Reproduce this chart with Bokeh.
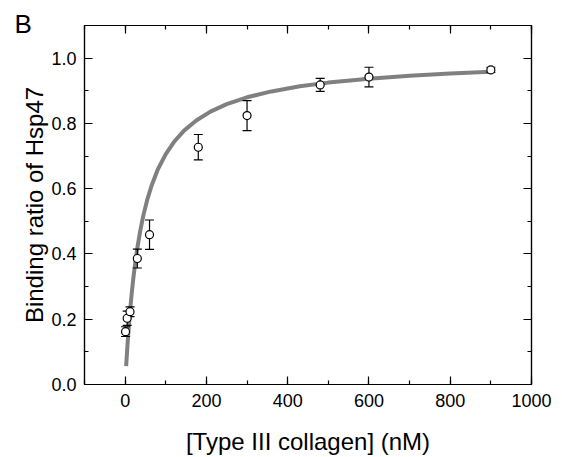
from bokeh.plotting import figure
from bokeh.models import (Range1d, LinearAxis, SingleIntervalTicker, ColumnDataSource,
                          CustomJSTickFormatter, Title)
from bokeh.embed import file_html
from bokeh.resources import INLINE

# measured data (nM, binding ratio)
conc = [1, 5, 12, 30, 60, 180, 300, 480, 600, 900]
ratio = [0.162, 0.203, 0.223, 0.386, 0.459, 0.727, 0.824, 0.918, 0.942, 0.964]
err = [0.015, 0.022, 0.015, 0.029, 0.045, 0.039, 0.046, 0.020, 0.030, 0.008]

# fitted curve
fit_x = [2.5, 4, 6, 8, 10, 13, 16, 20, 25, 30, 37, 45, 55, 65, 80, 100, 120, 145,
         175, 210, 250, 300, 360, 430, 500, 600, 700, 800, 900]
fit_y = [0.056, 0.087, 0.125, 0.160, 0.193, 0.237, 0.277, 0.324, 0.374, 0.418, 0.470,
         0.519, 0.569, 0.609, 0.658, 0.706, 0.743, 0.778, 0.809, 0.836, 0.859, 0.880,
         0.898, 0.914, 0.925, 0.937, 0.946, 0.953, 0.958]

x_label = "[Type III collagen] (nM)"
y_label = "Binding ratio of Hsp47"
panel = "B"

FONT = "Liberation Sans"

p = figure(width=562, height=457, output_backend="svg", toolbar_location=None,
           title_location=None,
           x_range=Range1d(-100, 1000), y_range=Range1d(0, 1.1),
           min_border_left=84, min_border_right=31, min_border_top=25, min_border_bottom=73)
p.xgrid.visible = False
p.ygrid.visible = False
p.outline_line_color = "black"
p.outline_line_width = 1.2
p.background_fill_color = "white"
p.border_fill_color = "white"

def style(ax, show_labels):
    ax.major_tick_in = 8
    ax.major_tick_out = 0
    ax.minor_tick_in = 4
    ax.minor_tick_out = 0
    ax.axis_line_color = "black"
    ax.axis_line_width = 1.2
    ax.major_tick_line_color = "black"
    ax.minor_tick_line_color = "black"
    ax.major_tick_line_width = 1.2
    ax.minor_tick_line_width = 1.2
    ax.major_label_text_font = FONT
    ax.major_label_text_color = "black"
    ax.axis_label_text_font = FONT
    ax.axis_label_text_font_style = "normal"
    ax.axis_label_text_color = "black"
    if not show_labels:
        ax.formatter = CustomJSTickFormatter(code="return ''")
        ax.major_label_standoff = 0

xt = SingleIntervalTicker(interval=200, num_minor_ticks=2)
yt = SingleIntervalTicker(interval=0.2, num_minor_ticks=2)
p.xaxis.ticker = xt
p.yaxis.ticker = yt

xa = p.xaxis[0]
ya = p.yaxis[0]
style(xa, True)
style(ya, True)
xa.major_label_text_font_size = "18px"
ya.major_label_text_font_size = "18px"
xa.axis_label = x_label
ya.axis_label = y_label
xa.axis_label_text_font_size = "24px"
ya.axis_label_text_font_size = "24px"
xa.major_label_standoff = 9
ya.major_label_standoff = 8
xa.axis_label_standoff = 18
ya.axis_label_standoff = 0
ya.major_label_overrides = {0: "0.0", 1: "1.0"}

top = LinearAxis(ticker=SingleIntervalTicker(interval=200, num_minor_ticks=2))
right = LinearAxis(ticker=SingleIntervalTicker(interval=0.2, num_minor_ticks=2))
style(top, False)
style(right, False)
p.add_layout(top, "above")
p.add_layout(right, "right")

# panel letter, placed as a title just above the top axis
ttl = Title(text=panel, align="left", offset=-70, standoff=-26, text_font=FONT,
            text_font_size="26px", text_font_style="normal", text_color="black")
p.add_layout(ttl, "above")

# invisible spacer axis (outermost) to push the letter down
spacer = LinearAxis(ticker=SingleIntervalTicker(interval=200, num_minor_ticks=0),
                    formatter=CustomJSTickFormatter(code="return ''"),
                    axis_line_color=None, major_tick_line_color=None,
                    minor_tick_line_color=None, major_tick_in=0, major_tick_out=0,
                    minor_tick_in=0, minor_tick_out=0, major_label_standoff=16)
p.add_layout(spacer, "above")

# curve
p.line(fit_x, fit_y, line_color="#808080", line_width=4)

# error bars
lo = [r - e for r, e in zip(ratio, err)]
hi = [r + e for r, e in zip(ratio, err)]
src = ColumnDataSource(dict(x=conc, y=ratio, lo=lo, hi=hi))
p.segment(x0="x", y0="lo", x1="x", y1="hi", source=src, line_color="black", line_width=1.2)
p.scatter(x="x", y="lo", source=src, marker="dash", size=9, line_color="black", line_width=1.2)
p.scatter(x="x", y="hi", source=src, marker="dash", size=9, line_color="black", line_width=1.2)

# points
p.scatter(x="x", y="y", source=src, marker="circle", size=8, fill_color="white",
          line_color="black", line_width=1.2)

open("out.html", "w").write(file_html(p, INLINE))
